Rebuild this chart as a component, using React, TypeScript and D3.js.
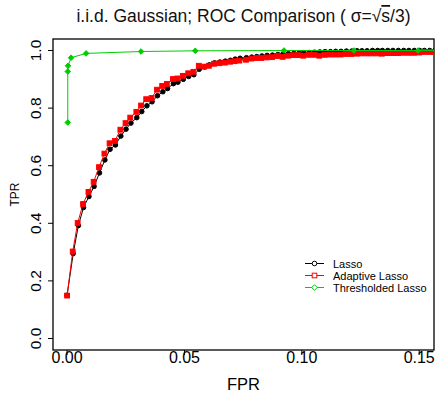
import React, { useEffect, useRef } from 'react';
import * as d3 from 'd3';

const WIDTH = 438;
const HEIGHT = 400;

// Lasso (black circles)
const lassoFpr = [
  0.0, 0.0026, 0.0048, 0.007, 0.0093, 0.0115, 0.0138, 0.0161, 0.0183, 0.0206,
  0.0229, 0.0251, 0.0272, 0.0297, 0.0318, 0.034, 0.0362, 0.0385, 0.0408, 0.0428,
  0.0453, 0.0472, 0.0495, 0.0518, 0.054, 0.0563, 0.0586, 0.0606, 0.0628, 0.0651,
  0.0674, 0.0696, 0.0716, 0.0737, 0.0764, 0.0787, 0.0808, 0.083, 0.0852, 0.0875,
  0.0898, 0.092, 0.0943, 0.0966, 0.0988, 0.1008, 0.1031, 0.1054, 0.1077, 0.1099,
  0.1122, 0.1144, 0.1167, 0.119, 0.1213, 0.1235, 0.1256, 0.1278, 0.1301, 0.1323,
  0.1343, 0.1366, 0.1388, 0.1411, 0.1434, 0.1456, 0.1479, 0.1502, 0.1522, 0.1545, 0.1567,
];
const lassoTpr = [
  0.15, 0.295, 0.392, 0.455, 0.493, 0.528, 0.575, 0.62, 0.657, 0.672,
  0.703, 0.727, 0.748, 0.767, 0.788, 0.808, 0.822, 0.843, 0.857, 0.868,
  0.885, 0.89, 0.9, 0.91, 0.916, 0.935, 0.943, 0.95, 0.957, 0.96,
  0.963, 0.966, 0.97, 0.973, 0.975, 0.977, 0.979, 0.981, 0.983, 0.984,
  0.986, 0.988, 0.989, 0.99, 0.991, 0.992, 0.993, 0.994, 0.995, 0.996,
  0.996, 0.997, 0.997, 0.998, 0.998, 0.999, 0.999, 0.999, 1.0, 1.0,
  1.0, 1.0, 1.0, 1.0, 1.0, 1.0, 1.0, 1.0, 1.0, 1.0, 1.0,
];

// Adaptive Lasso (red squares)
const adaptiveFpr = [
  0.0, 0.0024, 0.0045, 0.0068, 0.0091, 0.0113, 0.0136, 0.0159, 0.0181, 0.0204,
  0.0227, 0.0249, 0.0269, 0.0295, 0.0315, 0.0337, 0.036, 0.0383, 0.0405, 0.0425,
  0.0451, 0.047, 0.0493, 0.0516, 0.0538, 0.0561, 0.0584, 0.0604, 0.0626, 0.0649,
  0.0672, 0.0694, 0.0714, 0.0734, 0.0762, 0.0785, 0.0805, 0.0827, 0.085, 0.0873,
  0.0895, 0.0918, 0.0941, 0.0963, 0.0986, 0.1006, 0.1029, 0.1052, 0.1074, 0.1097,
  0.1119, 0.1142, 0.1165, 0.1188, 0.121, 0.1233, 0.1253, 0.1276, 0.1298, 0.1321,
  0.1341, 0.1363, 0.1386, 0.1409, 0.1431, 0.1454, 0.1477, 0.1499, 0.1519, 0.1542, 0.1562,
];
const adaptiveTpr = [
  0.149, 0.302, 0.401, 0.467, 0.509, 0.544, 0.595, 0.642, 0.678, 0.686,
  0.725, 0.748, 0.767, 0.787, 0.809, 0.831, 0.835, 0.864, 0.877, 0.884,
  0.901, 0.903, 0.912, 0.921, 0.926, 0.947, 0.944, 0.947, 0.954, 0.956,
  0.958, 0.961, 0.963, 0.965, 0.968, 0.972, 0.974, 0.974, 0.976, 0.977,
  0.981, 0.978, 0.982, 0.984, 0.984, 0.982, 0.985, 0.985, 0.982, 0.985,
  0.986, 0.986, 0.986, 0.988, 0.988, 0.989, 0.99, 0.99, 0.99, 0.99,
  0.989, 0.991, 0.991, 0.991, 0.992, 0.992, 0.992, 0.993, 0.995, 0.995, 0.995,
];

// Thresholded Lasso (green diamonds)
const thresholdedFpr = [0.0003, 0.0003, 0.0004, 0.0017, 0.0081, 0.0315, 0.0546, 0.0924, 0.1222, 0.1495, 0.18];
const thresholdedTpr = [0.75, 0.927, 0.947, 0.975, 0.99, 0.9965, 0.999, 1.0, 1.0, 1.0, 1.0];

const xTicks = [0, 0.05, 0.1, 0.15];
const yTicks = [0, 0.2, 0.4, 0.6, 0.8, 1.0];

const legendLabels = ['Lasso', 'Adaptive Lasso', 'Thresholded Lasso'];
const legendColors = ['#000000', '#ff0000', '#00cd00'];

const FONT = '"Liberation Sans", Arial, Helvetica, sans-serif';

const margin = { left: 53, right: 4, top: 39, bottom: 50 };

export default function App() {
  const svgRef = useRef<SVGSVGElement | null>(null);

  useEffect(() => {
    if (!svgRef.current) return;
    const svg = d3.select(svgRef.current);
    svg.selectAll('*').remove();

    const x0 = margin.left;
    const x1 = WIDTH - margin.right;
    const y0 = margin.top;
    const y1 = HEIGHT - margin.bottom;

    const x = d3.scaleLinear().domain([-0.006, 0.1563]).range([x0, x1]);
    const y = d3.scaleLinear().domain([-0.04, 1.04]).range([y1, y0]);

    svg.append('rect').attr('width', WIDTH).attr('height', HEIGHT).attr('fill', '#fff');

    svg.append('defs').append('clipPath').attr('id', 'plot-clip')
      .append('rect').attr('x', x0).attr('y', y0).attr('width', x1 - x0).attr('height', y1 - y0);

    // title
    const title = svg.append('text')
      .attr('x', (x0 + x1) / 2)
      .attr('y', 22)
      .attr('text-anchor', 'middle')
      .attr('font-family', FONT)
      .attr('font-size', 17.5)
      .attr('fill', '#111');
    title.append('tspan').text('i.i.d. Gaussian; ROC Comparison ( \u03c3=\u221a');
    title.append('tspan').attr('text-decoration', 'overline').text('s');
    title.append('tspan').text('/3)');

    // x axis
    const xAxis = svg.append('g').attr('font-family', FONT);
    xAxis.selectAll('line').data(xTicks).join('line')
      .attr('x1', d => x(d)).attr('x2', d => x(d))
      .attr('y1', y1).attr('y2', y1 + 5)
      .attr('stroke', '#000');
    xAxis.selectAll('text').data(xTicks).join('text')
      .attr('x', d => x(d)).attr('y', y1 + 13)
      .attr('text-anchor', 'middle')
      .attr('font-size', 16)
      .text(d => d3.format('.2f')(d));
    svg.append('text')
      .attr('x', (x0 + x1) / 2).attr('y', 390)
      .attr('text-anchor', 'middle')
      .attr('font-family', FONT).attr('font-size', 16.5)
      .text('FPR');

    // y axis
    const yAxis = svg.append('g').attr('font-family', FONT);
    yAxis.selectAll('line').data(yTicks).join('line')
      .attr('x1', x0 - 5).attr('x2', x0)
      .attr('y1', d => y(d)).attr('y2', d => y(d))
      .attr('stroke', '#000');
    yAxis.selectAll('text').data(yTicks).join('text')
      .attr('transform', d => `translate(41,${y(d)}) rotate(-90)`)
      .attr('text-anchor', 'middle')
      .attr('font-size', 15.5)
      .text(d => d3.format('.1f')(d));
    svg.append('text')
      .attr('transform', `translate(19,${(y0 + y1) / 2}) rotate(-90)`)
      .attr('text-anchor', 'middle')
      .attr('font-family', FONT).attr('font-size', 12)
      .text('TPR');

    // box
    svg.append('rect')
      .attr('x', x0).attr('y', y0)
      .attr('width', x1 - x0).attr('height', y1 - y0)
      .attr('fill', 'none').attr('stroke', '#000').attr('stroke-width', 1.3);

    const plot = svg.append('g').attr('clip-path', 'url(#plot-clip)');
    const line = d3.line<[number, number]>().x(d => x(d[0])).y(d => y(d[1]));

    const lassoPts = lassoFpr.map((f, i) => [f, lassoTpr[i]] as [number, number]);
    const adaptivePts = adaptiveFpr.map((f, i) => [f, adaptiveTpr[i]] as [number, number]);
    const thrPts = thresholdedFpr.map((f, i) => [f, thresholdedTpr[i]] as [number, number]);

    // Lasso
    plot.append('path').attr('d', line(lassoPts)).attr('fill', 'none').attr('stroke', legendColors[0]).attr('stroke-width', 1);
    plot.append('g').selectAll('circle').data(lassoPts).join('circle')
      .attr('cx', d => x(d[0])).attr('cy', d => y(d[1])).attr('r', 2.3)
      .attr('fill', legendColors[0]).attr('stroke', legendColors[0]).attr('stroke-width', 1);

    // Adaptive Lasso
    plot.append('path').attr('d', line(adaptivePts)).attr('fill', 'none').attr('stroke', legendColors[1]).attr('stroke-width', 1);
    plot.append('g').selectAll('rect').data(adaptivePts).join('rect')
      .attr('x', d => x(d[0]) - 2.4).attr('y', d => y(d[1]) - 2.4)
      .attr('width', 4.8).attr('height', 4.8)
      .attr('fill', legendColors[1]).attr('stroke', legendColors[1]).attr('stroke-width', 1);

    // Thresholded Lasso
    plot.append('path').attr('d', line(thrPts)).attr('fill', 'none').attr('stroke', legendColors[2]).attr('stroke-width', 1);
    const diamond = (cx: number, cy: number, r: number) =>
      `M${cx},${cy - r}L${cx + r},${cy}L${cx},${cy + r}L${cx - r},${cy}Z`;
    plot.append('g').selectAll('path').data(thrPts).join('path')
      .attr('d', d => diamond(x(d[0]), y(d[1]), 2.8))
      .attr('fill', legendColors[2]).attr('stroke', legendColors[2]).attr('stroke-width', 1);

    // legend
    const legend = svg.append('g').attr('font-family', FONT).attr('font-size', 11);
    legendLabels.forEach((label, i) => {
      const ly = 263.5 + i * 12;
      const c = legendColors[i];
      legend.append('line').attr('x1', 305).attr('x2', 324).attr('y1', ly).attr('y2', ly).attr('stroke', c);
      if (i === 0) {
        legend.append('circle').attr('cx', 314.5).attr('cy', ly).attr('r', 2.3).attr('fill', '#fff').attr('stroke', c);
      } else if (i === 1) {
        legend.append('rect').attr('x', 312.2).attr('y', ly - 2.3).attr('width', 4.6).attr('height', 4.6).attr('fill', '#fff').attr('stroke', c);
      } else {
        legend.append('path').attr('d', diamond(314.5, ly, 2.8)).attr('fill', '#fff').attr('stroke', c);
      }
      legend.append('text').attr('x', 333).attr('y', ly + 4).text(label);
    });
  }, []);

  return (
    <svg
      ref={svgRef}
      width={WIDTH}
      height={HEIGHT}
      style={{ position: 'absolute', left: 0, top: 0, display: 'block' }}
    />
  );
}
